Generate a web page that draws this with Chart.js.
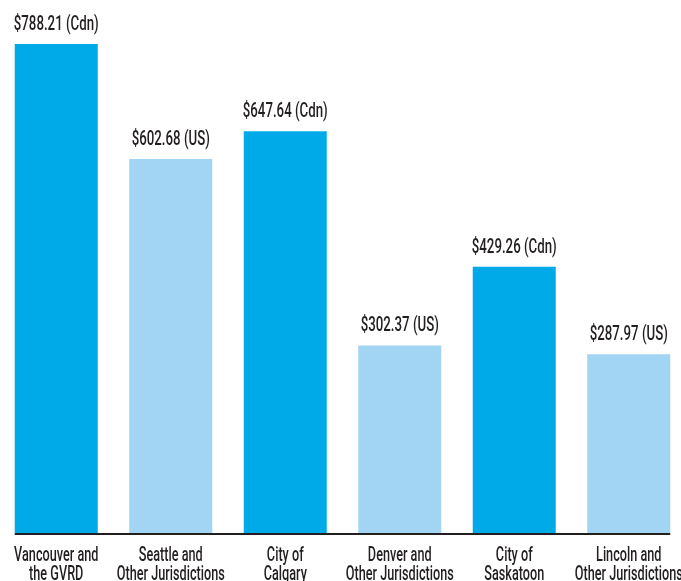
<!DOCTYPE html>
<html>
<head>
<meta charset="utf-8">
<script src="https://cdn.jsdelivr.net/npm/chart.js@4/dist/chart.umd.min.js"></script>
<style>
  html, body { margin: 0; padding: 0; background: #fff; overflow: hidden; }
  #wrap { position: absolute; left: -1px; top: 0; width: 687px; height: 581px; }
</style>
</head>
<body>
<div id="wrap"><canvas id="c"></canvas></div>
<script>
const categories = [
  ["Vancouver and", "the GVRD"],
  ["Seattle and", "Other Jurisdictions"],
  ["City of", "Calgary"],
  ["Denver and", "Other Jurisdictions"],
  ["City of", "Saskatoon"],
  ["Lincoln and", "Other Jurisdictions"]
];
const values = [788.21, 602.68, 647.64, 302.37, 429.26, 287.97];
const currencies = ["Cdn", "US", "Cdn", "US", "Cdn", "US"];
const valueLabels = values.map((v, i) => "$" + v.toFixed(2) + " (" + currencies[i] + ")");

const DARK = "#00AAE8";
const LIGHT = "#A2D5F4";
const TEXT = "#231F20";
const FONT = "Roboto, 'DejaVu Sans', sans-serif";

function drawCondensed(ctx, text, x, y, sx) {
  ctx.save();
  ctx.translate(x, y);
  ctx.scale(sx, 1);
  ctx.fillText(text, 0, 0);
  ctx.restore();
}

const labelPlugin = {
  id: "valueLabels",
  afterDatasetsDraw(chart) {
    const ctx = chart.ctx;
    const meta = chart.getDatasetMeta(0);
    ctx.save();
    ctx.fillStyle = TEXT;
    ctx.textAlign = "center";
    ctx.textBaseline = "alphabetic";

    // value labels above bars
    ctx.font = "500 21px " + FONT;
    const sxV = 85 / ctx.measureText(valueLabels[0]).width;
    meta.data.forEach((bar, i) => {
      drawCondensed(ctx, valueLabels[i], bar.x, bar.y - 14, sxV);
    });

    // category labels under axis
    const y0 = chart.scales.y.getPixelForValue(0);
    ctx.font = "500 20px " + FONT;
    const sxC = 108 / ctx.measureText("Other Jurisdictions").width;
    meta.data.forEach((bar, i) => {
      categories[i].forEach((line, j) => {
        drawCondensed(ctx, line, bar.x, y0 + 28 + j * 19, sxC);
      });
    });

    // baseline axis line from first bar left to last bar right
    const first = meta.data[0], last = meta.data[meta.data.length - 1];
    ctx.strokeStyle = TEXT;
    ctx.lineWidth = 2;
    ctx.beginPath();
    ctx.moveTo(first.x - first.width / 2, y0 + 1);
    ctx.lineTo(last.x + last.width / 2, y0 + 1);
    ctx.stroke();
    ctx.restore();
  }
};

new Chart(document.getElementById("c"), {
  type: "bar",
  data: {
    labels: categories,
    datasets: [{
      data: values,
      backgroundColor: values.map((v, i) => currencies[i] === "Cdn" ? DARK : LIGHT),
      borderWidth: 0,
      barPercentage: 0.725,
      categoryPercentage: 1.0
    }]
  },
  options: {
    responsive: true,
    maintainAspectRatio: false,
    animation: false,
    layout: { padding: { left: 0, right: 0, top: 0, bottom: 48 } },
    plugins: { legend: { display: false }, tooltip: { enabled: false } },
    scales: {
      x: { display: false },
      y: { display: false, min: 0, max: 859.1 }
    }
  },
  plugins: [labelPlugin]
});
</script>
</body>
</html>
